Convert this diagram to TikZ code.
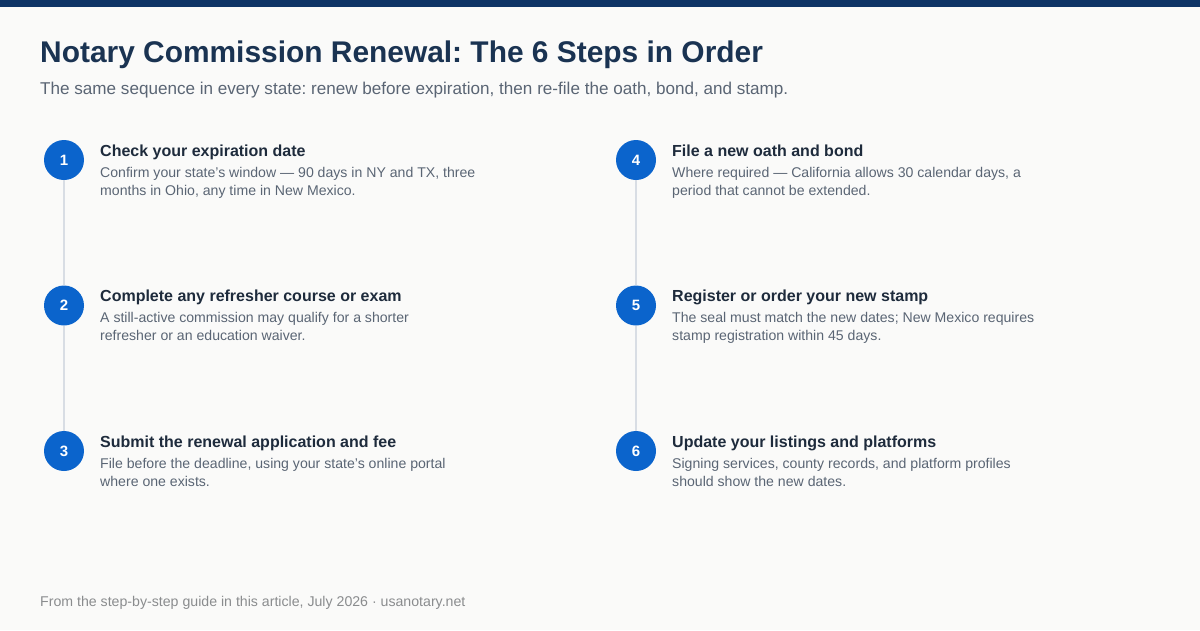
\documentclass[tikz,border=0pt]{standalone}
\usepackage{fontspec}
\setmainfont{Liberation Sans}
\usepackage{tikz}
\usetikzlibrary{positioning}
\usepackage{xcolor}
\frenchspacing

\definecolor{barnavy}{HTML}{0E3466}
\definecolor{titlenavy}{HTML}{1A3352}
\definecolor{stepblue}{HTML}{0B64CC}
\definecolor{headdark}{HTML}{1E2B3C}
\definecolor{descgray}{HTML}{5A6574}
\definecolor{footgray}{HTML}{8A8C8E}
\definecolor{railgray}{HTML}{D8DDE4}
\definecolor{pagebg}{HTML}{FAFAF9}

\tikzset{
    stepdot/.style={circle, fill=stepblue, minimum size=40pt, inner sep=0pt,
        text=white, font=\fontsize{15}{18}\selectfont\bfseries},
    stephead/.style={anchor=base west, inner sep=0pt, text=headdark,
        font=\fontsize{16}{19}\selectfont\bfseries},
    stepdesc/.style={anchor=base west, inner sep=0pt, text=descgray, align=left,
        font=\fontsize{14.1}{18}\selectfont},
    rail/.style={railgray, line width=2pt}
}

\begin{document}
\begin{tikzpicture}[x=1pt, y=-1pt]
        \useasboundingbox (0,0) rectangle (1200,630);
        \fill[pagebg] (0,0) rectangle (1200,630);
        \fill[barnavy] (0,0) rectangle (1200,7);

        % heading
        \node[anchor=base west, inner sep=0pt, text=titlenavy,
              font=\fontsize{29.9}{34}\selectfont\bfseries] (title) at (40,62)
              {Notary Commission Renewal: The 6 Steps in Order};
        \node[anchor=base west, inner sep=0pt, text=descgray,
              font=\fontsize{17.1}{20}\selectfont] (subtitle) at (40,94)
              {The same sequence in every state: renew before expiration, then re-file the oath, bond, and stamp.};

        % steps
        \foreach \n/\x/\y/\h/\d in {
            1/64/160/{Check your expiration date}/{Confirm your state's window — 90 days in NY and TX, three\\months in Ohio, any time in New Mexico.},
            2/64/305.5/{Complete any refresher course or exam}/{A still-active commission may qualify for a shorter\\refresher or an education waiver.},
            3/64/451/{Submit the renewal application and fee}/{File before the deadline, using your state's online portal\\where one exists.},
            4/636/160/{File a new oath and bond}/{Where required — California allows 30 calendar days, a\\period that cannot be extended.},
            5/636/305.5/{Register or order your new stamp}/{The seal must match the new dates; New Mexico requires\\stamp registration within 45 days.},
            6/636/451/{Update your listings and platforms}/{Signing services, county records, and platform profiles\\should show the new dates.}}{
            \node[stepdot] (s\n) at (\x,\y) {\n};
            \node[stephead] (h\n) at ({\x+36},{\y-4}) {\h};
            \node[stepdesc] (d\n) at ({\x+36},{\y+35}) {\d};
        }

        % rails between steps
        \foreach \a/\b in {1/2,2/3,4/5,5/6}{
            \draw[rail] (s\a.south) -- (s\b.north);
        }

        \node[anchor=base west, inner sep=0pt, text=footgray,
              font=\fontsize{14.15}{17}\selectfont] (source) at (40,606)
              {From the step-by-step guide in this article, July 2026 · usanotary.net};
    \end{tikzpicture}
\end{document}
